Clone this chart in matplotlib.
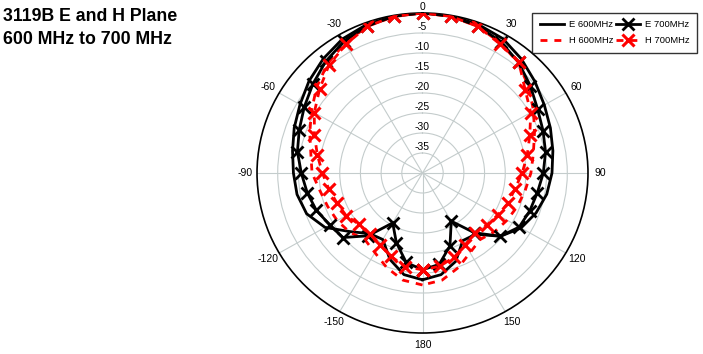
import numpy as np
import matplotlib.pyplot as plt

plt.rcParams['font.family'] = ['Liberation Sans', 'DejaVu Sans']

# angles in degrees, 0 = boresight (top), clockwise positive
angles = [-180, -170, -160, -150, -140, -130, -120, -110, -100, -90,
          -80, -70, -60, -50, -40, -30, -20, -10, 0,
          10, 20, 30, 40, 50, 60, 70, 80, 90,
          100, 110, 120, 130, 140, 150, 160, 170, 180]

e600 = [-13.3, -14.2, -17.0, -20.8, -20.2, -17.2, -12.8, -10.2, -9.2, -8.8,
        -8.1, -7.0, -5.8, -4.2, -2.7, -1.3, -0.5, -0.1, 0.0,
        -0.1, -0.5, -1.2, -2.8, -4.5, -6.0, -7.1, -8.0, -8.7,
        -9.5, -10.8, -12.5, -15.4, -20.0, -20.5, -16.5, -14.2, -13.3]

e700 = [-15.8, -17.3, -21.5, -25.6, -19.5, -14.9, -14.1, -12.7, -11.7, -10.7,
        -9.3, -8.3, -7.0, -5.4, -3.6, -2.0, -0.9, -0.2, 0.0,
        -0.2, -0.9, -2.1, -3.9, -6.0, -7.9, -9.0, -9.8, -10.8,
        -11.8, -12.4, -13.0, -15.4, -20.5, -26.1, -20.6, -16.8, -15.8]

h600 = [-12.0, -12.8, -14.8, -17.0, -18.3, -17.0, -16.2, -15.6, -14.8, -13.3,
        -12.6, -11.0, -9.0, -6.6, -4.3, -2.5, -1.0, -0.3, 0.0,
        -0.3, -1.0, -2.4, -4.0, -6.5, -9.0, -11.2, -12.8, -13.8,
        -14.8, -15.6, -16.4, -17.2, -18.3, -17.0, -14.8, -12.8, -12.0]

h700 = [-15.8, -16.2, -17.8, -19.3, -20.1, -20.0, -18.7, -18.0, -17.0, -15.8,
        -14.2, -12.2, -9.8, -7.5, -4.8, -2.9, -1.0, -0.25, 0.0,
        -0.25, -1.0, -2.7, -3.8, -7.6, -9.8, -12.4, -14.3, -15.9,
        -17.3, -18.0, -19.0, -19.7, -20.4, -19.3, -17.6, -16.3, -15.8]

ring_vals = [0, -5, -10, -15, -20, -25, -30, -35]
angle_ticks = [30, 60, 90, 120, 150, 180, -150, -120, -90, -60, -30]

fig = plt.figure(figsize=(7.03, 3.54), dpi=100)
ax = fig.add_axes([0.3656, 0.0593, 0.4708, 0.904], projection='polar')
ax.set_aspect('auto')
ax.set_theta_zero_location('N')
ax.set_theta_direction(-1)

th = np.deg2rad(angles)
ax.plot(th, e600, color='black', lw=2, label='E 600MHz', zorder=3)
ax.plot(th, h600, color='#ff0000', lw=2, ls=(0, (2.5, 2.5)), label='H 600MHz', zorder=3)
ax.plot(th, e700, color='black', lw=2, marker='x', ms=8, mew=2, label='E 700MHz', zorder=4)
ax.plot(th, h700, color='#ff0000', lw=2, ls=(0, (2.5, 2.5)), marker='x', ms=8, mew=2.2,
        label='H 700MHz', zorder=5)

ax.set_xticks(np.deg2rad([a % 360 for a in angle_ticks]))
ax.set_xticklabels([])
ax.set_xlim(0, 2 * np.pi)
ax.set_ylim(-40, 0)
ax.set_yticks(ring_vals[1:])
ax.set_yticklabels([])
ax.grid(color='#c4cccc', lw=0.8)
ax.spines['polar'].set_linewidth(1.2)
ax.spines['polar'].set_color('black')

# angle labels just outside the outer ring
for a in angle_ticks:
    ax.text(np.deg2rad(a), 3.0, str(a), fontsize=7.5, ha='center', va='center', clip_on=False)

# dB ring labels along the 0 deg spoke
for v in ring_vals:
    ax.text(0, v + 1.6, str(v), fontsize=7.5, ha='center', va='center', clip_on=False, zorder=6)

fig.text(0.004, 0.977, '3119B E and H Plane\n600 MHz to 700 MHz', fontsize=12.8,
         fontweight='bold', va='top', ha='left', linespacing=1.45)

h, l = ax.get_legend_handles_labels()
leg = fig.legend(h, l, ncol=2, loc='upper right', bbox_to_anchor=(0.998, 0.978),
                 fontsize=6.8, frameon=True, fancybox=False, edgecolor='black',
                 handlelength=2.6, columnspacing=0.3, handletextpad=0.45, borderpad=0.8,
                 labelspacing=0.75)
leg.get_frame().set_linewidth(1)

fig.savefig('out.png', dpi=100)
